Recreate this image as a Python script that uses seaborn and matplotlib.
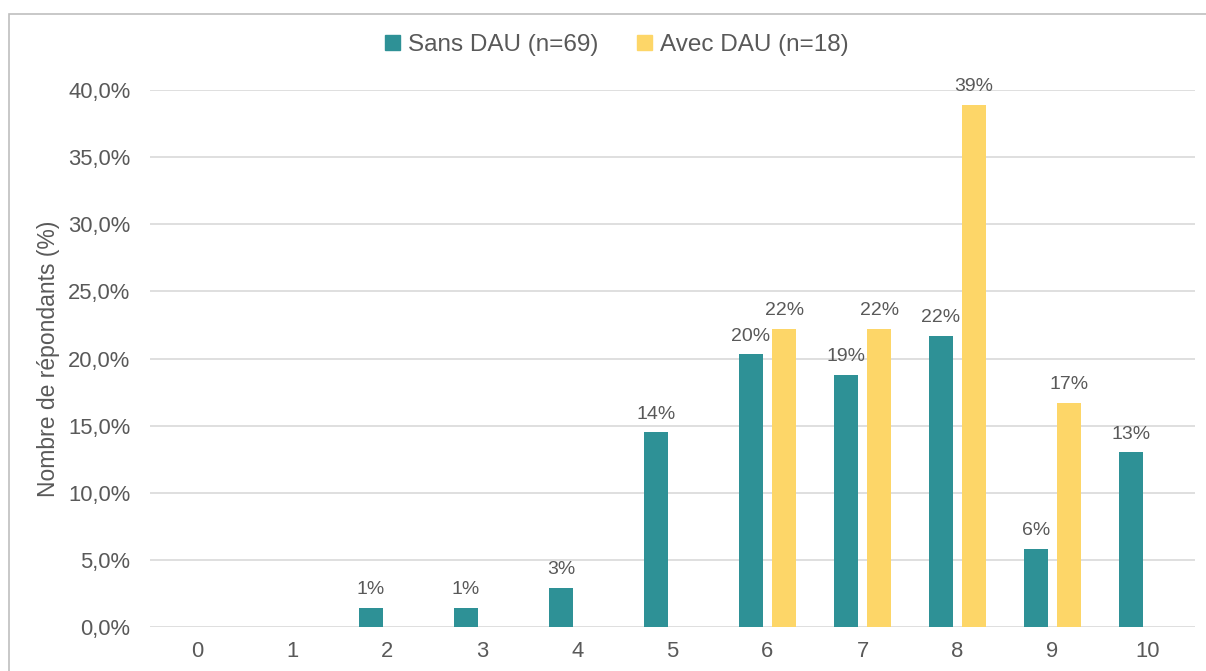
import pandas as pd
import numpy as np
import matplotlib
matplotlib.use("Agg")
import matplotlib.pyplot as plt
import seaborn as sns
from matplotlib.ticker import FuncFormatter
from matplotlib.patches import Rectangle

# Values (% of respondents per score)
scores = ['0', '1', '2', '3', '4', '5', '6', '7', '8', '9', '10']
sans_dau = [0, 0, 1.4, 1.4, 2.9, 14.5, 20.3, 18.8, 21.7, 5.8, 13.0]
avec_dau = [0, 0, 0, 0, 0, 0, 22.2, 22.2, 38.9, 16.7, 0]
series_names = ['Sans DAU (n=69)', 'Avec DAU (n=18)']
colors = ['#2E9196', '#FDD668']
text_color = '#595959'

data = pd.DataFrame({
    'score': scores * 2,
    'pct': [v / 100 for v in sans_dau + avec_dau],
    'groupe': [series_names[0]] * len(scores) + [series_names[1]] * len(scores),
})

sns.set_style('white')
plt.rcParams['font.family'] = ['Liberation Sans', 'DejaVu Sans']

fig = plt.figure(figsize=(12.06, 6.71), dpi=100)
ax = fig.add_axes([150 / 1206, 44 / 671, 1045 / 1206, 537 / 671])

sns.barplot(data=data, x='score', y='pct', hue='groupe', palette=colors,
            saturation=1, width=0.7, gap=0.28, order=scores, hue_order=series_names,
            ax=ax, legend=False, linewidth=0)

# Data labels, only for non-zero bars
for container, vals in zip(ax.containers, [sans_dau, avec_dau]):
    labels = [f'{v:.0f}%' if v > 0 else '' for v in vals]
    ax.bar_label(container, labels=labels, padding=7, fontsize=14,
                 color=text_color)

ax.set_ylim(0, 0.40)
ax.set_xlim(-0.5, 10.5)
ax.set_yticks(np.arange(0, 0.401, 0.05))
ax.yaxis.set_major_formatter(FuncFormatter(lambda v, p: f'{v * 100:.1f}%'.replace('.', ',')))
ax.grid(axis='y', color='#D9D9D9', linewidth=1.2)
ax.set_axisbelow(True)
for s in ax.spines.values():
    s.set_visible(False)
ax.tick_params(axis='y', length=0, pad=14, labelsize=15.8, labelcolor=text_color)
ax.tick_params(axis='x', length=0, pad=10, labelsize=15.8, labelcolor=text_color)
ax.set_xlabel('')
ax.set_ylabel('Nombre de répondants (%)', fontsize=16.5, color=text_color)
ax.yaxis.set_label_coords(-0.0861, 0.5)

# Legend at the top
handles = [Rectangle((0, 0), 1, 1, color=c) for c in colors]
fig.legend(handles, series_names, loc='center', bbox_to_anchor=(617 / 1206, 1 - 45 / 671),
           ncol=2, frameon=False, fontsize=17.5, labelcolor=text_color,
           handlelength=0.6, handleheight=0.6, handletextpad=0.35, columnspacing=1.6)

# Chart area frame
fig.patches.append(Rectangle((9 / 1206, -0.05), 1.2, 1 - 14 / 671 + 0.05,
                             transform=fig.transFigure, fill=False,
                             edgecolor='#BFBFBF', linewidth=1.2))

fig.savefig('out.png', dpi=100)
